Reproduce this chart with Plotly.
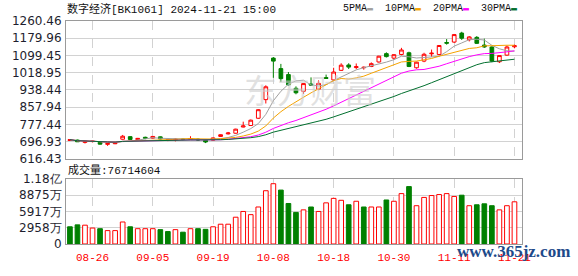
import numpy as np
import pandas as pd
import plotly.graph_objects as go

# ---------------- data ----------------
dates = ["08-21", "08-22", "08-23", "08-26", "08-27", "08-28", "08-29", "08-30",
         "09-02", "09-03", "09-04", "09-05", "09-06", "09-09", "09-10", "09-11",
         "09-12", "09-13", "09-18", "09-19", "09-20", "09-23", "09-24", "09-25",
         "09-26", "09-27", "09-30", "10-08", "10-09", "10-10", "10-11", "10-14",
         "10-15", "10-16", "10-17", "10-18", "10-21", "10-22", "10-23", "10-24",
         "10-25", "10-28", "10-29", "10-30", "10-31", "11-01", "11-04", "11-05",
         "11-06", "11-07", "11-08", "11-11", "11-12", "11-13", "11-14", "11-15",
         "11-18", "11-19", "11-20", "11-21"]

opens = [702, 704, 693, 697, 694, 684, 687, 708, 720, 706, 717, 713, 719, 703, 705, 708,
         707, 708, 703, 704, 721, 733, 736, 765, 772, 806, 893, 1087, 1038, 1010, 946, 932,
         966, 942, 996, 985, 1030, 1055, 1043, 1042, 1048, 1069, 1108, 1087, 1104, 1112,
         1042, 1073, 1107, 1104, 1160, 1162, 1204, 1173, 1184, 1148, 1139, 1070, 1101, 1140]
highs = [707, 706, 699, 701, 695, 690, 694, 728, 722, 714, 720, 723, 721, 708, 712, 711,
         722, 712, 706, 716, 731, 742, 757, 790, 800, 849, 960, 1092, 1060, 1022, 955, 970,
         997, 983, 1010, 1042, 1063, 1063, 1062, 1048, 1067, 1098, 1114, 1106, 1135, 1117,
         1070, 1112, 1127, 1148, 1176, 1200, 1210, 1190, 1190, 1178, 1142, 1100, 1146, 1150]
lows = [700, 695, 688, 693, 683, 677, 685, 706, 705, 704, 708, 710, 707, 699, 698, 703,
        704, 700, 690, 702, 719, 730, 734, 763, 770, 803, 875, 995, 975, 958, 918, 920,
        958, 937, 990, 982, 1027, 1036, 1035, 1033, 1045, 1066, 1090, 1080, 1100, 1045,
        1038, 1068, 1093, 1100, 1150, 1158, 1172, 1165, 1153, 1135, 1068, 1064, 1098, 1133]
closes = [706, 696, 698, 699, 685, 688, 690, 722, 707, 712, 713, 721, 709, 705, 708, 707,
          711, 705, 695, 714, 729, 737, 755, 770, 797, 846, 953, 1073, 991, 962, 925, 968,
          961, 969, 992, 1022, 1054, 1045, 1047, 1044, 1061, 1096, 1094, 1103, 1125, 1048,
          1068, 1105, 1110, 1146, 1157, 1197, 1180, 1186, 1156, 1139, 1073, 1099, 1139, 1145]
prev_close_before = 708

# volume in shares
volumes = [31320000, 34800000, 34220000, 29000000, 27840000, 24360000, 24360000, 40020000,
           31320000, 27840000, 27840000, 27840000, 26100000, 22620000, 26100000, 21460000,
           27840000, 27840000, 26680000, 31320000, 35960000, 35960000, 48720000, 59160000,
           53360000, 67280000, 96860000, 109620000, 98020000, 73660000, 57420000, 62060000,
           67280000, 59160000, 74820000, 82940000, 79460000, 71340000, 77720000, 67280000,
           67280000, 67280000, 80040000, 77720000, 91640000, 104400000, 69600000, 84680000,
           88160000, 89900000, 91640000, 86420000, 88740000, 69600000, 71340000, 73080000,
           69600000, 62060000, 69600000, 76714604]

tick_dates = ["08-26", "09-05", "09-19", "10-08", "10-18", "10-30", "11-11", "11-21"]
price_min, price_max = 616.43, 1260.46
vol_max = 118335000
ma_periods = [5, 10, 20, 30]

# ---------------- styling ----------------
RED = "#ff0000"
GREEN = "#008000"
MA_COLORS = {5: "#a0a0a0", 10: "#f5a300", 20: "#ff00ff", 30: "#006f2e"}
GRID = "#d2d2d2"
BORDER = "#9a9a9a"
LABEL = "#1e1e2e"
MONO = "Liberation Mono, Noto Sans CJK SC, monospace"
SANS = "DejaVu Sans, sans-serif"

idx = list(range(len(dates)))
close_s = pd.Series(closes, dtype=float)

fig = go.Figure()

# MA lines
for p in ma_periods:
    ma = close_s.rolling(p, min_periods=1).mean()
    fig.add_trace(go.Scatter(x=idx, y=ma, mode="lines", line=dict(color=MA_COLORS[p], width=1),
                             xaxis="x", yaxis="y", hoverinfo="skip", showlegend=False))

fig.add_trace(go.Candlestick(
    x=idx, open=opens, high=highs, low=lows, close=closes,
    increasing=dict(line=dict(color=RED, width=1), fillcolor="white"),
    decreasing=dict(line=dict(color=GREEN, width=1), fillcolor=GREEN),
    whiskerwidth=0, xaxis="x", yaxis="y", showlegend=False))

prevs = [prev_close_before] + closes[:-1]
up = [c >= p for c, p in zip(closes, prevs)]
fig.add_trace(go.Bar(
    x=idx, y=volumes, width=0.62, xaxis="x2", yaxis="y2",
    marker=dict(color=["white" if u else GREEN for u in up],
                line=dict(color=[RED if u else GREEN for u in up], width=1)),
    showlegend=False))

tick_idx = [dates.index(d) for d in tick_dates]
price_ticks = list(np.linspace(price_min, price_max, 9))
vol_ticks = list(np.linspace(0, vol_max, 5))


def vol_label(v):
    if v == 0:
        return "0"
    if v >= 1e8:
        return f"{v / 1e8:.2f}亿"
    return f"{v / 1e4:.0f}万"


H, W = 276, 578
mt, mb, ml, mr = 21, 22, 56, 56
ph = H - mt - mb
pw = W - ml - mr


def py(pix):  # pixel y -> paper
    return (H - mb - pix) / ph


def px(pix):
    return (pix - ml) / pw


common_x = dict(range=[-0.52, 60.0], tickmode="array", tickvals=tick_idx, showgrid=True,
                gridcolor=GRID, griddash="dash", gridwidth=1, showline=True, mirror=True,
                linecolor=BORDER, linewidth=1, zeroline=False, fixedrange=True)

fig.update_layout(
    width=W, height=H, margin=dict(l=ml, r=mr, t=mt, b=mb),
    paper_bgcolor="white", plot_bgcolor="white", showlegend=False,
    xaxis=dict(**common_x, domain=[0, 1], anchor="y", showticklabels=False,
               rangeslider=dict(visible=False)),
    yaxis=dict(domain=[py(165), 1], range=[price_min, price_max], tickmode="array",
               tickvals=price_ticks, ticktext=[f"{v:.2f}" for v in price_ticks],
               showgrid=True, gridcolor=GRID, showline=True, mirror=True, linecolor=BORDER,
               zeroline=False, tickfont=dict(family=SANS, size=12, color=LABEL),
               ticks="", ticklabelstandoff=1),
    xaxis2=dict(**common_x, domain=[0, 1], anchor="y2", showticklabels=True,
                ticktext=tick_dates, tickfont=dict(family=MONO, size=11, color=RED),
                ticks="", ticklabelstandoff=3),
    yaxis2=dict(domain=[0, py(186)], range=[0, vol_max], tickmode="array",
                tickvals=vol_ticks, ticktext=[vol_label(v) for v in vol_ticks],
                showgrid=True, gridcolor=GRID, showline=True, mirror=True, linecolor=BORDER,
                zeroline=False, tickfont=dict(family=SANS, size=12, color=LABEL),
                ticks="", ticklabelstandoff=1),
)

legend_html = "&nbsp;&nbsp;".join(
    f"{p}PMA<span style='color:{MA_COLORS[p]}'>▬</span>" for p in ma_periods)

annotations = [
    dict(text="东方财富", x=px(305), y=py(92), xref="paper", yref="paper", showarrow=False,
         font=dict(family="Noto Sans CJK SC", size=33, color="rgba(205,205,205,0.6)"),
         xanchor="center", yanchor="middle"),
    dict(text="数字经济[BK1061] 2024-11-21 15:00", x=px(55), y=py(8), xref="paper",
         yref="paper", showarrow=False, xanchor="left", yanchor="middle",
         font=dict(family=MONO, size=11, color="#111")),
    dict(text=legend_html, x=px(337), y=py(8), xref="paper", yref="paper", showarrow=False,
         xanchor="left", yanchor="middle", font=dict(family=MONO, size=10, color="#111")),
    dict(text=f"成交量:{volumes[-1]}", x=px(56), y=py(177), xref="paper", yref="paper",
         showarrow=False, xanchor="left", yanchor="middle",
         font=dict(family=MONO, size=11, color="#111")),
    dict(text="<b>www.365jz.com</b>", x=px(513), y=py(262), xref="paper", yref="paper",
         showarrow=False, xanchor="center", yanchor="middle",
         font=dict(family="Liberation Serif, serif", size=17, color="#1d4a8a")),
]
fig.update_layout(annotations=annotations)

fig.write_html("out.html")
